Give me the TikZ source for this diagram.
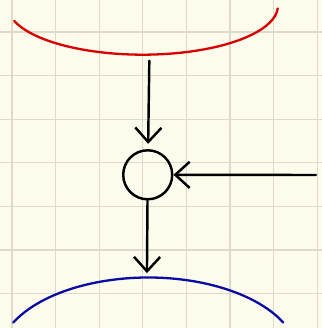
\documentclass[tikz,border=0pt]{standalone}
\usetikzlibrary{arrows.meta}
\definecolor{bgc}{HTML}{FDFBEB}
\definecolor{gridc}{HTML}{DDDACA}
\definecolor{arcred}{HTML}{D80000}
\definecolor{arcblue}{HTML}{0A0AA5}
\begin{document}
\begin{tikzpicture}[
  gridline/.style={draw=gridc, line width=0.7pt},
  flow/.style={draw=black, line width=1.6pt, line cap=round,
    -{Straight Barb[length=3.3mm,width=6mm]}},
  junction/.style={circle, draw=black, line width=1.6pt, minimum size=1.124cm, inner sep=0pt},
  redarc/.style={draw=arcred, line width=1.5pt, line cap=round},
  bluearc/.style={draw=arcblue, line width=1.5pt, line cap=round}]
\useasboundingbox (-0.275,-0.789) rectangle (7.110,6.734);
\fill[bgc] (-0.275,-0.789) rectangle (7.110,6.734);
\draw[gridline] (-0.275,-0.789) grid (7.110,6.734);

\node[junction] (sum) at (3.113,2.725) {};

\draw[redarc] (3,6.6) ++(198:3.1cm and 1.12cm)
  arc[start angle=198, end angle=357, x radius=3.1cm, y radius=1.12cm];
\draw[bluearc] (3.126,-1.461) ++(154.2:3.44cm and 1.83cm)
  arc[start angle=154.2, end angle=25.8, x radius=3.44cm, y radius=1.83cm];

\coordinate (inA) at (3.15,5.34);
\coordinate (inB) at (6.97,2.72);
\coordinate (outC) at (3.095,0.47);

\draw[flow, shorten >=0.12cm] (inA) -- (sum);
\draw[flow] (inB) -- (sum);
\draw[flow] (sum) -- (outC);
\end{tikzpicture}
\end{document}
